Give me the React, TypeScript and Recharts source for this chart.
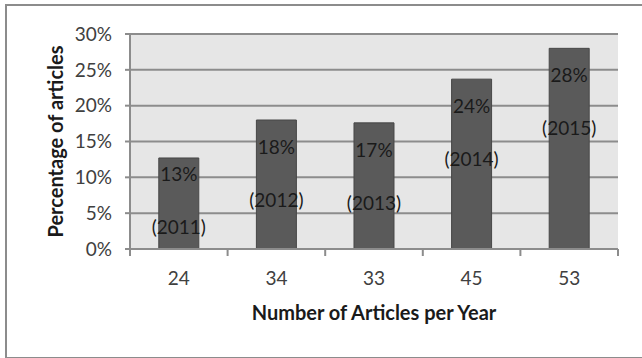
import { BarChart, Bar, XAxis, YAxis, CartesianGrid } from "recharts";

// articles per year (x categories)
const articleCounts = ["24", "34", "33", "45", "53"];
// share of articles, in percent
const shares = [12.7, 18.0, 17.6, 23.7, 28.0];
const shareLabels = ["13%", "18%", "17%", "24%", "28%"];
const years = ["(2011)", "(2012)", "(2013)", "(2014)", "(2015)"];
const yTicks = [0, 5, 10, 15, 20, 25, 30];

const data = articleCounts.map((count, i) => ({
    count,
    share: shares[i],
}));

const FONT = "Lato, 'Open Sans', sans-serif";
const GRAY = "#8c8c8c";

function BarLabel(props: any) {
    const { x, y, width, height, index } = props;
    const cx = x + width / 2;
    const bottom = y + height;
    const yearY = Math.min(y + 87, bottom - 15);
    const pctY = Math.min(y + 34, yearY - 53);
    return (
        <g fontFamily={FONT} fontSize={19} fill="#1a1a1a" stroke="none" textAnchor="middle">
            <text x={cx} y={pctY} stroke="none">{shareLabels[index]}</text>
            <text x={cx} y={yearY} stroke="none">{years[index]}</text>
        </g>
    );
}

function XTick(props: any) {
    const { x, y, payload, index } = props;
    const half = payload && payload.offset ? payload.offset : 48.8;
    const last = index === articleCounts.length - 1;
    return (
        <g>
            <line x1={x - half} y1={y} x2={x - half} y2={y + 7} stroke={GRAY} strokeWidth={2} />
            {last && (
                <line x1={x + half} y1={y} x2={x + half} y2={y + 7} stroke={GRAY} strokeWidth={2} />
            )}
            <text x={x} y={y + 36} textAnchor="middle" fontFamily={FONT} fontSize={19} fill="#404040" stroke="none">
                {payload.value}
            </text>
        </g>
    );
}

export default function App() {
    return (
        <div style={{ position: "absolute", left: 0, top: 0, width: 642, height: 358, background: "#fff", overflow: "hidden" }}>
            <div
                style={{
                    position: "absolute",
                    left: 5,
                    top: 4,
                    width: 660,
                    height: 351,
                    border: `2px solid ${GRAY}`,
                }}
            />
            <div style={{ position: "absolute", left: 0, top: 0 }}>
                <BarChart
                    width={642}
                    height={358}
                    data={data}
                    margin={{ top: 34, right: 24, bottom: 29, left: 0 }}
                    barCategoryGap="29.5%"
                >
                    <CartesianGrid
                        vertical={false}
                        stroke={GRAY}
                        strokeWidth={2}
                        fill="#e6e6e6"
                        fillOpacity={1}
                    />
                    <XAxis
                        dataKey="count"
                        height={80}
                        stroke={GRAY}
                        strokeWidth={2}
                        tickLine={false}
                        tickSize={0}
                        tickMargin={0}
                        tick={<XTick />}
                        label={{
                            value: "Number of Articles per Year",
                            position: "insideBottom",
                            offset: 9,
                            style: { fontFamily: FONT, fontSize: 20, fontWeight: 700, fill: "#1a1a1a" },
                        }}
                    />
                    <YAxis
                        width={130}
                        domain={[0, 30]}
                        ticks={yTicks}
                        interval={0}
                        tickFormatter={(v: number) => `${v}%`}
                        stroke={GRAY}
                        strokeWidth={2}
                        tickSize={5}
                        tickMargin={13}
                        tick={{ fontFamily: FONT, fontSize: 19, fill: "#404040", stroke: "none" }}
                        label={{
                            value: "Percentage of articles",
                            angle: -90,
                            position: "center",
                            dx: -9,
                            style: { fontFamily: FONT, fontSize: 20, fontWeight: 700, fill: "#1a1a1a", textAnchor: "middle" },
                        }}
                    />
                    <Bar
                        dataKey="share"
                        fill="#5a5a5a"
                        stroke="#474747"
                        strokeWidth={1}
                        isAnimationActive={false}
                        label={<BarLabel />}
                    />
                </BarChart>
            </div>
        </div>
    );
}
